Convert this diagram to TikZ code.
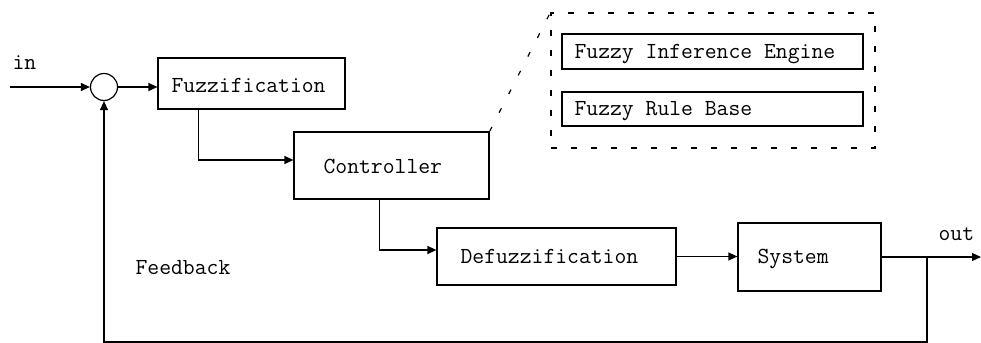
\documentclass[tikz,border=0pt]{standalone}
\usetikzlibrary{arrows.meta,fit}
\begin{document}
\begin{tikzpicture}[x=0.5pt,y=-0.5pt,line width=0.6pt,
  blk/.style={draw,inner sep=0pt},
  lbl/.style={font=\ttfamily\fontsize{11.5}{13}\selectfont,inner sep=0pt,anchor=base west},
  arr/.style={-{Triangle[length=4.5pt,width=4pt]}},
  dsh/.style={dash pattern=on 3pt off 7pt},
  diag/.style={dash pattern=on 2.5pt off 8pt}]
\useasboundingbox (0,0) rectangle (981,343);

% corner points of the blocks
\coordinate (fuzz-a) at (158,58);  \coordinate (fuzz-b) at (345,109);
\coordinate (ctrl-a) at (294,132); \coordinate (ctrl-b) at (489,199);
\coordinate (defz-a) at (437,228); \coordinate (defz-b) at (676,285);
\coordinate (sys-a)  at (738,223); \coordinate (sys-b)  at (881,291);
\coordinate (fie-a)  at (562,34);  \coordinate (fie-b)  at (863,69);
\coordinate (frb-a)  at (562,92);  \coordinate (frb-b)  at (863,126);
\coordinate (dbx-a)  at (551,13);  \coordinate (dbx-b)  at (875,148);

% blocks
\node[blk,fit=(fuzz-a)(fuzz-b)] (fuzz) {};
\node[blk,fit=(ctrl-a)(ctrl-b)] (ctrl) {};
\node[blk,fit=(defz-a)(defz-b)] (defz) {};
\node[blk,fit=(sys-a)(sys-b)]   (sys)  {};
\node[blk,fit=(fie-a)(fie-b)]   (fie)  {};
\node[blk,fit=(frb-a)(frb-b)]   (frb)  {};
\node[draw,dsh,inner sep=0pt,fit=(dbx-a)(dbx-b)] (dbx) {};
\node[circle,draw,minimum size=13.5pt,inner sep=0pt] (sum) at (104,87) {};

% labels
\node[lbl] (inL)   at (12,69)   {in};
\node[lbl] (fuzzL) at (171,92.5) {Fuzzification};
\node[lbl] (ctrlL) at (323,173) {Controller};
\node[lbl] (defzL) at (460,263) {Defuzzification};
\node[lbl] (sysL)  at (757,263) {System};
\node[lbl] (fieL)  at (574,58)  {Fuzzy Inference Engine};
\node[lbl] (frbL)  at (574,115) {Fuzzy Rule Base};
\node[lbl] (fbL)   at (135,274) {Feedback};
\node[lbl] (outL)  at (938,240) {out};

% free ends of the signal path
\coordinate (inS)  at (10,87);
\coordinate (outE) at (981,257);
\coordinate (tap)  at (927,257);
\coordinate (fbC)  at (927,342);

% signal flow
\draw[arr] (inS) -- (sum.west);
\draw[arr] (sum.east) -- (sum.east -| fuzz.west);
\draw[arr] ([xshift=20.5pt]fuzz.south west) |- ([yshift=2.75pt]ctrl.west);
\draw[arr] ([xshift=43pt]ctrl.south west) |- ([yshift=3.25pt]defz.west);
\draw[arr] (defz.east) -- (defz.east -| sys.west);
\draw[arr] (sys.east |- outE) -- (outE);
\draw[arr] (tap) -- (fbC) -| (sum.south);

% zoom onto the controller internals
\draw[diag] (ctrl.north east) -- (dbx.north west);
\end{tikzpicture}
\end{document}
